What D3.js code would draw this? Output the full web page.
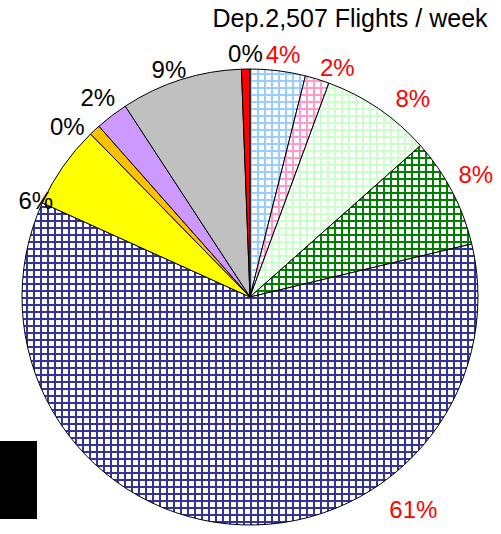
<!DOCTYPE html>
<html>
<head>
<meta charset="utf-8">
<script src="https://cdn.jsdelivr.net/npm/d3@7"></script>
<style>
  body { margin: 0; background: #fff; }
  svg { display: block; font-family: Arial, "Liberation Sans", sans-serif; }
</style>
</head>
<body>
<div id="chart"></div>
<script>
// weekly departures per slice, clockwise from 12 o'clock
const slices = ["s1", "s2", "s3", "s4", "s5", "s6", "s7", "s8", "s9", "s10"];
const flights = [98, 43, 196, 196, 1517, 148, 20, 58, 216, 15];
const labels = ["4%", "2%", "8%", "8%", "61%", "6%", "0%", "2%", "9%", "0%"];
const title = "Dep.2,507 Flights / week";

// styles
const fills = [
  {grid: "#99CCFF"}, {grid: "#FF99CC"}, {grid: "#CCFFCC"}, {grid: "#008000"},
  {grid: "#333399"}, {solid: "#FFFF00"}, {solid: "#FFC000"}, {solid: "#CC99FF"},
  {solid: "#C0C0C0"}, {solid: "#FF0000"}
];
const labelColors = ["red", "red", "red", "red", "red", "#000", "#000", "#000", "#000", "#000"];
// label placement tweaks: angle shift (deg) and distance from centre
const labelShift = [0.7, 3.7, 5, -1, -43, -10.7, -4, 0, -2, 0];
const labelDist = [245, 245, 257, 257, 268, 235, 250, 251, 241, 243];

const width = 501;
const height = 534;
const cx = 250;
const cy = 297;
const radius = 228;

const svg = d3.select("#chart")
    .append("svg")
    .attr("width", width)
    .attr("height", height);

const defs = svg.append("defs");
fills.forEach((f, i) => {
  if (!f.grid) return;
  const p = defs.append("pattern")
      .attr("id", "grid" + i)
      .attr("patternUnits", "userSpaceOnUse")
      .attr("width", 7)
      .attr("height", 7);
  p.append("rect").attr("width", 7).attr("height", 7).attr("fill", "#fff");
  p.append("rect").attr("width", 7).attr("height", 2).attr("fill", f.grid);
  p.append("rect").attr("width", 2).attr("height", 7).attr("fill", f.grid);
});

const pie = d3.pie().sort(null).value(d => d)(flights);
const arc = d3.arc().innerRadius(0).outerRadius(radius);

const g = svg.append("g").attr("transform", `translate(${cx},${cy})`);

g.selectAll("path")
  .data(pie)
  .join("path")
    .attr("d", arc)
    .attr("fill", (d, i) => fills[i].grid ? `url(#grid${i})` : fills[i].solid)
    .attr("stroke", "#000")
    .attr("stroke-width", 1);

g.selectAll("text.lbl")
  .data(pie)
  .join("text")
    .attr("class", "lbl")
    .attr("x", (d, i) => {
      const a = (d.startAngle + d.endAngle) / 2 + labelShift[i] * Math.PI / 180;
      return labelDist[i] * Math.sin(a);
    })
    .attr("y", (d, i) => {
      const a = (d.startAngle + d.endAngle) / 2 + labelShift[i] * Math.PI / 180;
      return -labelDist[i] * Math.cos(a);
    })
    .attr("text-anchor", "middle")
    .attr("dy", "0.35em")
    .attr("font-size", 24)
    .attr("fill", (d, i) => labelColors[i])
    .text((d, i) => labels[i]);

svg.append("text")
    .attr("x", 350)
    .attr("y", 27)
    .attr("text-anchor", "middle")
    .attr("font-size", 25)
    .attr("fill", "#000")
    .text(title);

// black block bottom-left
svg.append("rect")
    .attr("x", 0)
    .attr("y", 441)
    .attr("width", 37)
    .attr("height", 78)
    .attr("fill", "#000");
</script>
</body>
</html>
